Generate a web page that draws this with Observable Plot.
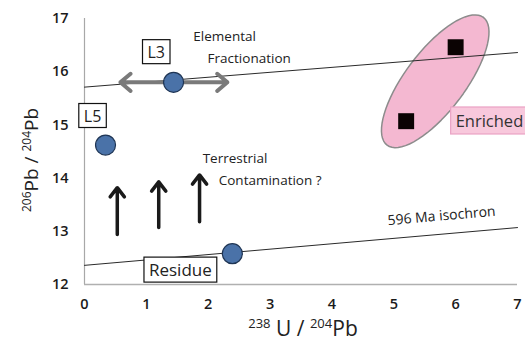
<!DOCTYPE html>
<html><head><meta charset="utf-8">
<script src="https://cdn.jsdelivr.net/npm/d3@7"></script>
<script src="https://cdn.jsdelivr.net/npm/@observablehq/plot@0.6"></script>
<style>
body{margin:0;background:#fff}
#chart svg g[aria-label^="x-axis"] text, #chart svg g[aria-label^="y-axis"] text{font-weight:600;font-size:14.5px;fill:#1a1a1a}
</style>
</head><body><div id="chart"></div>
<script>
// axis ticks
const xTicks = [0, 1, 2, 3, 4, 5, 6, 7];
const yTicks = [12, 13, 14, 15, 16, 17];
// samples (blue circles)
const sampleNames = ["L3", "L5", "Residue"];
const sampleU = [1.44, 0.34, 2.39];
const samplePb = [15.8, 14.62, 12.58];
// enriched (black squares)
const enrichedU = [6.0, 5.2];
const enrichedPb = [16.46, 15.07];
// reference lines
const fractionationLineU = [0, 7];
const fractionationLinePb = [15.71, 16.36];
const isochronU = [0, 7];
const isochronPb = [12.36, 13.07];
// contamination arrows
const contamU = [0.53, 1.2, 1.86];
const contamFrom = [12.94, 13.07, 13.18];
const contamTo = [13.82, 13.93, 14.06];
// elemental fractionation double arrow ends (from L3)
const fracArrowEnds = [0.58, 2.31];
// boxed labels
const boxLabels = ["L3", "L5", "Residue"];
const boxLabelU = [1.16, 0.13, 1.55];
const boxLabelPb = [16.36, 15.16, 12.26];
const boxLabelSize = [16, 16, 17];
// annotations
const notes = ["Elemental", "Fractionation", "Terrestrial", "Contamination ?"];
const noteU = [1.76, 1.99, 1.91, 2.17];
const notePb = [16.66, 16.25, 14.37, 13.95];
const isochronLabel = "596 Ma isochron";
const isochronLabelU = 4.9, isochronLabelPb = 13.2;
const enrichedLabel = "Enriched";
const enrichedLabelU = 6.0, enrichedLabelPb = 15.06;
// enriched field ellipse: centre (data), semi-axes (px), tilt (deg)
const ellipseCenterU = 5.67, ellipseCenterPb = 15.82;
const ellipseA = 80, ellipseB = 30, ellipseTilt = 53;

const W = 525, H = 342, mL = 84, mR = 8, mT = 18, mB = 58;
const xDom = [0, 7], yDom = [12, 17];
const kx = (W - mL - mR) / (xDom[1] - xDom[0]);
const ky = (H - mT - mB) / (yDom[1] - yDom[0]);

const samples = sampleNames.map((n, i) => ({name: n, u: sampleU[i], pb: samplePb[i]}));
const enriched = enrichedU.map((u, i) => ({u, pb: enrichedPb[i]}));
const fracLine = fractionationLineU.map((u, i) => ({u, pb: fractionationLinePb[i]}));
const isoLine = isochronU.map((u, i) => ({u, pb: isochronPb[i]}));
const contam = contamU.map((u, i) => ({u, from: contamFrom[i], to: contamTo[i]}));
const boxes = boxLabels.map((t, i) => ({t, u: boxLabelU[i], pb: boxLabelPb[i], s: boxLabelSize[i]}));
const noteData = notes.map((t, i) => ({t, u: noteU[i], pb: notePb[i]}));

const th = ellipseTilt * Math.PI / 180;
const ellipse = d3.range(0, 73).map(k => {
  const t = k / 72 * 2 * Math.PI;
  const px = ellipseA * Math.cos(th) * Math.cos(t) - ellipseB * Math.sin(th) * Math.sin(t);
  const py = ellipseA * Math.sin(th) * Math.cos(t) + ellipseB * Math.cos(th) * Math.sin(t);
  return {u: ellipseCenterU + px / kx, pb: ellipseCenterPb + py / ky};
});

const chart = Plot.plot({
  width: W, height: H,
  marginLeft: mL, marginRight: mR, marginTop: mT, marginBottom: mB,
  style: {fontFamily: "'Open Sans', sans-serif", fontSize: "14px", background: "#fff", color: "#222"},
  x: {domain: xDom, ticks: xTicks, tickSize: 0, tickPadding: 14, label: null, tickFormat: d => d},
  y: {domain: yDom, ticks: yTicks, tickSize: 0, tickPadding: 16, label: null, tickFormat: d => d},
  marks: [
    Plot.ruleX([xDom[0]], {y1: yDom[0], y2: yDom[1], stroke: "#a8a8a8", strokeWidth: 1.2}),
    Plot.ruleY([yDom[0]], {stroke: "#b0b0b0", strokeWidth: 1.5}),
    Plot.line(ellipse, {x: "u", y: "pb", fill: "#f4b8d1", stroke: "#8c8c8c", strokeWidth: 1.5}),
    Plot.line(fracLine, {x: "u", y: "pb", stroke: "#2a2a2a", strokeWidth: 1}),
    Plot.line(isoLine, {x: "u", y: "pb", stroke: "#2a2a2a", strokeWidth: 1}),
    Plot.arrow(fracArrowEnds, {x1: () => sampleU[0], y1: () => samplePb[0], x2: d => d, y2: () => samplePb[0],
      stroke: "#7a7a7a", strokeWidth: 4, headLength: 5, headAngle: 80}),
    Plot.arrow(contam, {x1: "u", y1: "from", x2: "u", y2: "to", stroke: "#1a1a1a", strokeWidth: 3.5, headLength: 5, headAngle: 75}),
    Plot.dot(samples, {x: "u", y: "pb", r: 10, fill: "#4a72a8", stroke: "#1f3554", strokeWidth: 1.2}),
    Plot.dot(enriched, {x: "u", y: "pb", symbol: "square", r: 9, fill: "#0b0303", stroke: "none"}),
    Plot.text(noteData, {x: "u", y: "pb", text: "t", textAnchor: "start", fontSize: 13.5, fill: "#222"}),
    Plot.text([isochronLabel], {x: () => isochronLabelU, y: () => isochronLabelPb, text: d => d, textAnchor: "start", rotate: -5, fontSize: 14, fill: "#222"}),
    Plot.text(boxes, {x: "u", y: "pb", text: "t", fontSize: "s", fill: "#222", ariaDescription: "boxed"}),
    Plot.text([enrichedLabel], {x: () => enrichedLabelU, y: () => enrichedLabelPb, text: d => d, textAnchor: "start", fontSize: 16.5, fill: "#333", ariaDescription: "enriched"})
  ]
});
document.getElementById("chart").appendChild(chart);

function boxify(label, pad, fill, stroke, extendRight) {
  d3.select(chart).selectAll(`g[aria-description="${label}"] text`).each(function () {
    const bb = this.getBBox();
    const r = document.createElementNS("http://www.w3.org/2000/svg", "rect");
    r.setAttribute("x", bb.x - pad[0]);
    r.setAttribute("y", bb.y - pad[1]);
    r.setAttribute("width", bb.width + 2 * pad[0] + (extendRight || 0));
    r.setAttribute("height", bb.height + 2 * pad[1]);
    r.setAttribute("fill", fill);
    r.setAttribute("stroke", stroke);
    r.setAttribute("stroke-width", 1.2);
    const tr = this.getAttribute("transform");
    if (tr) r.setAttribute("transform", tr);
    this.parentNode.insertBefore(r, this);
  });
}
boxify("boxed", [5, 1], "#fff", "#111", 0);
boxify("enriched", [5, 2], "#f8c8dc", "#eaa2c4", 20);

// axis titles with superscripts
const svg = d3.select(chart);
const xt = svg.append("text").attr("x", 303).attr("y", 336).attr("text-anchor", "middle")
  .attr("fill", "#222").style("font-family", "'Open Sans', sans-serif").style("font-size", "21px");
xt.append("tspan").attr("font-size", "13px").attr("dy", "-8").text("238");
xt.append("tspan").attr("dy", "8").text(" U / ");
xt.append("tspan").attr("font-size", "13px").attr("dy", "-8").text("204");
xt.append("tspan").attr("dy", "8").text("Pb");
const yt = svg.append("text").attr("transform", "translate(38,160) rotate(-90)").attr("text-anchor", "middle")
  .attr("fill", "#222").style("font-family", "'Open Sans', sans-serif").style("font-size", "19px");
yt.append("tspan").attr("font-size", "12px").attr("dy", "-7").text("206");
yt.append("tspan").attr("dy", "7").text("Pb / ");
yt.append("tspan").attr("font-size", "12px").attr("dy", "-7").text("204");
yt.append("tspan").attr("dy", "7").text("Pb");
</script>
</body></html>
